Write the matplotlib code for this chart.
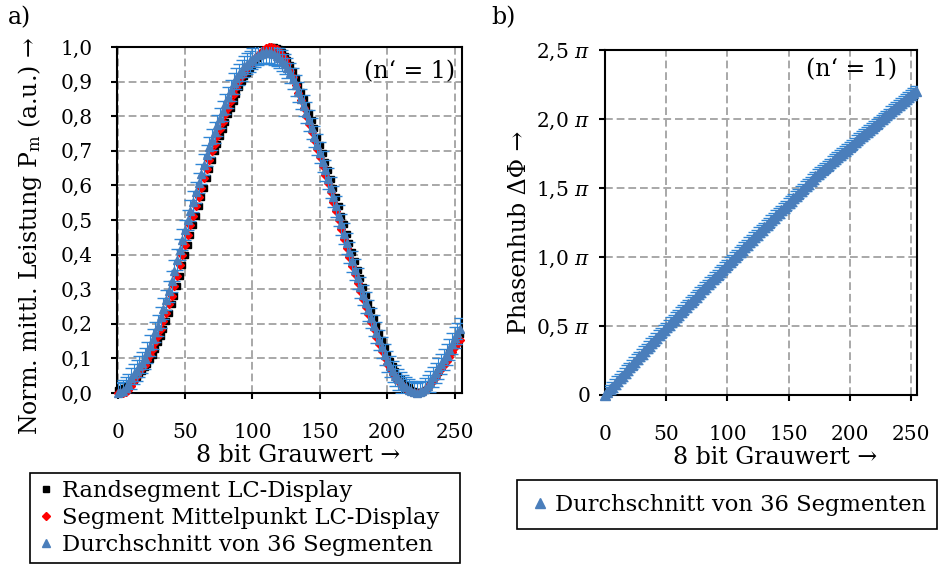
import matplotlib
matplotlib.use('Agg')
import matplotlib.pyplot as plt
import numpy as np
from matplotlib.ticker import FuncFormatter

plt.rcParams['font.family'] = ['DejaVu Serif']
plt.rcParams['mathtext.fontset'] = 'dejavuserif'

# 8 bit grey values (every second level)
grey = np.arange(0, 256, 2)

# normalised mean power, edge segment of the LC display
power_edge = [
    0.010, 0.012, 0.015, 0.019, 0.024, 0.030, 0.037, 0.045,
    0.054, 0.064, 0.074, 0.085, 0.097, 0.110, 0.127, 0.146,
    0.166, 0.185, 0.207, 0.231, 0.256, 0.281, 0.308, 0.338,
    0.369, 0.399, 0.428, 0.457, 0.485, 0.513, 0.540, 0.566,
    0.593, 0.620, 0.646, 0.673, 0.699, 0.721, 0.742, 0.763,
    0.784, 0.805, 0.825, 0.845, 0.865, 0.885, 0.902, 0.915,
    0.926, 0.938, 0.949, 0.958, 0.967, 0.976, 0.984, 0.991,
    0.996, 0.999, 1.000, 0.998, 0.993, 0.985, 0.975, 0.963,
    0.948, 0.930, 0.910, 0.890, 0.870, 0.850, 0.830, 0.810,
    0.788, 0.765, 0.741, 0.718, 0.694, 0.669, 0.644, 0.619,
    0.593, 0.567, 0.540, 0.513, 0.487, 0.460, 0.433, 0.407,
    0.381, 0.356, 0.331, 0.306, 0.283, 0.261, 0.239, 0.217,
    0.195, 0.174, 0.153, 0.132, 0.111, 0.092, 0.077, 0.063,
    0.050, 0.040, 0.031, 0.023, 0.016, 0.010, 0.006, 0.003,
    0.002, 0.004, 0.009, 0.016, 0.026, 0.038, 0.050, 0.062,
    0.075, 0.088, 0.101, 0.115, 0.130, 0.146, 0.158, 0.170,
]

# centre point of one segment
power_center = [
    0.000, 0.000, 0.001, 0.004, 0.010, 0.020, 0.034, 0.048,
    0.060, 0.071, 0.082, 0.094, 0.109, 0.127, 0.146, 0.166,
    0.185, 0.207, 0.231, 0.256, 0.281, 0.308, 0.338, 0.369,
    0.399, 0.428, 0.457, 0.485, 0.513, 0.540, 0.566, 0.593,
    0.620, 0.646, 0.673, 0.699, 0.721, 0.742, 0.763, 0.784,
    0.805, 0.825, 0.845, 0.865, 0.885, 0.902, 0.915, 0.926,
    0.938, 0.949, 0.958, 0.967, 0.976, 0.984, 0.991, 0.996,
    0.999, 1.000, 0.998, 0.994, 0.987, 0.977, 0.965, 0.950,
    0.932, 0.912, 0.890, 0.868, 0.846, 0.824, 0.802, 0.778,
    0.754, 0.730, 0.706, 0.681, 0.656, 0.631, 0.606, 0.580,
    0.553, 0.527, 0.500, 0.473, 0.446, 0.420, 0.394, 0.368,
    0.343, 0.318, 0.294, 0.272, 0.250, 0.228, 0.206, 0.184,
    0.163, 0.142, 0.121, 0.101, 0.084, 0.070, 0.056, 0.045,
    0.035, 0.027, 0.019, 0.013, 0.007, 0.003, 0.001, 0.000,
    0.001, 0.004, 0.009, 0.016, 0.025, 0.035, 0.046, 0.057,
    0.068, 0.080, 0.092, 0.105, 0.119, 0.132, 0.143, 0.153,
]

# average over 36 segments
power_mean = [
    0.000, 0.002, 0.007, 0.015, 0.026, 0.042, 0.055, 0.065,
    0.077, 0.088, 0.100, 0.118, 0.137, 0.156, 0.176, 0.195,
    0.219, 0.244, 0.269, 0.294, 0.323, 0.354, 0.385, 0.414,
    0.443, 0.471, 0.500, 0.527, 0.553, 0.580, 0.607, 0.633,
    0.660, 0.687, 0.711, 0.732, 0.753, 0.774, 0.795, 0.815,
    0.835, 0.855, 0.875, 0.895, 0.909, 0.921, 0.932, 0.944,
    0.952, 0.959, 0.966, 0.972, 0.977, 0.981, 0.984, 0.985,
    0.984, 0.982, 0.979, 0.974, 0.968, 0.960, 0.951, 0.939,
    0.925, 0.908, 0.889, 0.870, 0.850, 0.830, 0.810, 0.788,
    0.765, 0.741, 0.718, 0.694, 0.669, 0.644, 0.619, 0.593,
    0.567, 0.540, 0.513, 0.487, 0.460, 0.433, 0.407, 0.381,
    0.356, 0.331, 0.306, 0.283, 0.261, 0.239, 0.217, 0.195,
    0.174, 0.153, 0.132, 0.111, 0.092, 0.077, 0.063, 0.050,
    0.040, 0.031, 0.023, 0.016, 0.010, 0.005, 0.002, 0.000,
    0.002, 0.006, 0.013, 0.021, 0.033, 0.046, 0.058, 0.071,
    0.084, 0.097, 0.111, 0.126, 0.143, 0.160, 0.173, 0.186,
]
power_mean_err = 0.03

# phase shift of the segment average, in units of pi
phase_mean = [
    0.000, 0.020, 0.040, 0.060, 0.080, 0.100, 0.120, 0.140,
    0.160, 0.180, 0.200, 0.220, 0.240, 0.260, 0.279, 0.298,
    0.318, 0.337, 0.356, 0.375, 0.394, 0.414, 0.433, 0.452,
    0.471, 0.490, 0.508, 0.527, 0.545, 0.564, 0.582, 0.600,
    0.619, 0.637, 0.656, 0.674, 0.692, 0.711, 0.729, 0.747,
    0.765, 0.783, 0.801, 0.819, 0.837, 0.855, 0.873, 0.891,
    0.909, 0.927, 0.945, 0.963, 0.981, 0.999, 1.017, 1.035,
    1.053, 1.071, 1.089, 1.107, 1.125, 1.143, 1.161, 1.179,
    1.196, 1.214, 1.232, 1.249, 1.267, 1.284, 1.302, 1.320,
    1.337, 1.355, 1.372, 1.390, 1.408, 1.425, 1.443, 1.460,
    1.478, 1.496, 1.513, 1.531, 1.548, 1.566, 1.584, 1.601,
    1.618, 1.633, 1.648, 1.663, 1.678, 1.694, 1.709, 1.724,
    1.739, 1.754, 1.770, 1.785, 1.800, 1.815, 1.830, 1.846,
    1.861, 1.876, 1.891, 1.906, 1.922, 1.937, 1.952, 1.967,
    1.982, 1.997, 2.012, 2.026, 2.041, 2.056, 2.071, 2.085,
    2.100, 2.115, 2.129, 2.144, 2.159, 2.173, 2.188, 2.203,
]
phase_mean_err = 0.035

label_edge = 'Randsegment LC-Display'
label_center = 'Segment Mittelpunkt LC-Display'
label_mean = 'Durchschnitt von 36 Segmenten'

BLUE = '#4A7EBB'
BLUE_ERR = '#2F86D6'
FS = 17
LS = 16.3
TS = 14.5
W, H = 938.0, 567.0


def style_axes(ax):
    for spine in ax.spines.values():
        spine.set_linewidth(1.5)
        spine.set_color('black')
    ax.tick_params(direction='out', length=4.5, width=1.5, labelsize=TS,
                   top=False, right=False)
    ax.grid(True, color='#A8A8A8', linewidth=1.4, linestyle=(0, (4, 2)))
    ax.set_axisbelow(True)


fig = plt.figure(figsize=(W / 100, H / 100), dpi=100)
ax_p = fig.add_axes([117 / W, 1 - 393 / H, 345 / W, 346 / H])
ax_f = fig.add_axes([605 / W, 1 - 395 / H, 312 / W, 345 / H])

# a) normalised power
ax_p.plot(grey, power_edge, 's', color='black', ms=5, label=label_edge,
          clip_on=False, zorder=3)
ax_p.plot(grey, power_center, 'D', color='red', ms=4, label=label_center,
          clip_on=False, zorder=4)
ax_p.errorbar(grey, power_mean, yerr=power_mean_err, fmt='none', ecolor=BLUE_ERR,
              elinewidth=0.8, capsize=4, capthick=1, zorder=5)
ax_p.plot(grey, power_mean, '^', color=BLUE, ms=6, label=label_mean,
          clip_on=False, zorder=6)

style_axes(ax_p)
ax_p.set_xlim(-0.5, 255.5)
ax_p.set_ylim(0, 1)
ax_p.set_xticks(range(0, 251, 50))
ax_p.set_yticks(np.linspace(0, 1, 11))
ax_p.yaxis.set_major_formatter(FuncFormatter(lambda v, p: '{0:.1f}'.format(v).replace('.', ',')))
ax_p.tick_params(axis='x', pad=17)
ax_p.tick_params(axis='y', pad=13)
ax_p.text(0.98, 0.928, '(n‘ = 1)', transform=ax_p.transAxes, ha='right',
          va='center', fontsize=FS)

# b) phase shift
ax_f.errorbar(grey, phase_mean, yerr=phase_mean_err, fmt='none', ecolor=BLUE_ERR,
              elinewidth=0.8, capsize=4, capthick=1, zorder=5)
ax_f.plot(grey, phase_mean, '^', color=BLUE, ms=6.5, label=label_mean,
          clip_on=False, zorder=6)

style_axes(ax_f)
ax_f.set_xlim(0, 255)
ax_f.set_ylim(0, 2.5)
ax_f.set_xticks(range(0, 251, 50))
ax_f.set_yticks(np.linspace(0, 2.5, 6))


def phase_fmt(v, p):
    if abs(v) < 1e-9:
        return '0'
    return '{0:.1f} $\\pi$'.format(v).replace('.', ',')


ax_f.yaxis.set_major_formatter(FuncFormatter(phase_fmt))
ax_f.tick_params(axis='x', pad=17)
ax_f.tick_params(axis='y', pad=6)
ax_f.text(0.936, 0.942, '(n‘ = 1)', transform=ax_f.transAxes, ha='right',
          va='center', fontsize=FS)

# labels
fig.text(8 / W, 1 - 18 / H, 'a)', fontsize=FS, ha='left', va='center')
fig.text(491 / W, 1 - 18 / H, 'b)', fontsize=FS, ha='left', va='center')
fig.text(30 / W, 1 - 236 / H, 'Norm. mittl. Leistung P$_\\mathrm{m}$ (a.u.) →',
         fontsize=FS, rotation=90, ha='center', va='center')
fig.text(520 / W, 1 - 232 / H, 'Phasenhub ΔΦ →', fontsize=FS, rotation=90,
         ha='center', va='center')
fig.text(298 / W, 1 - 456 / H, '8 bit Grauwert →', fontsize=FS, ha='center', va='center')
fig.text(775 / W, 1 - 457 / H, '8 bit Grauwert →', fontsize=FS, ha='center', va='center')

# legends
h, l = ax_p.get_legend_handles_labels()
leg = fig.legend(h, l, loc='upper left', bbox_to_anchor=(30 / W, 0, 430 / W, 1 - 473 / H),
                 mode='expand', fontsize=LS, frameon=True, fancybox=False,
                 edgecolor='black', framealpha=1, borderaxespad=0, borderpad=0.3,
                 handlelength=0.8, handletextpad=0.3, labelspacing=0.22)
leg.get_frame().set_linewidth(1.2)

h, l = ax_f.get_legend_handles_labels()
leg = fig.legend(h, l, loc='upper left', bbox_to_anchor=(517 / W, 1 - 537 / H, 420 / W, 57 / H),
                 mode='expand', fontsize=LS, frameon=True, fancybox=False,
                 edgecolor='black', framealpha=1, borderaxespad=0, borderpad=0.6,
                 handlelength=0.8, handletextpad=0.3)
leg.get_frame().set_linewidth(1.2)

fig.savefig('out.png', dpi=100)
